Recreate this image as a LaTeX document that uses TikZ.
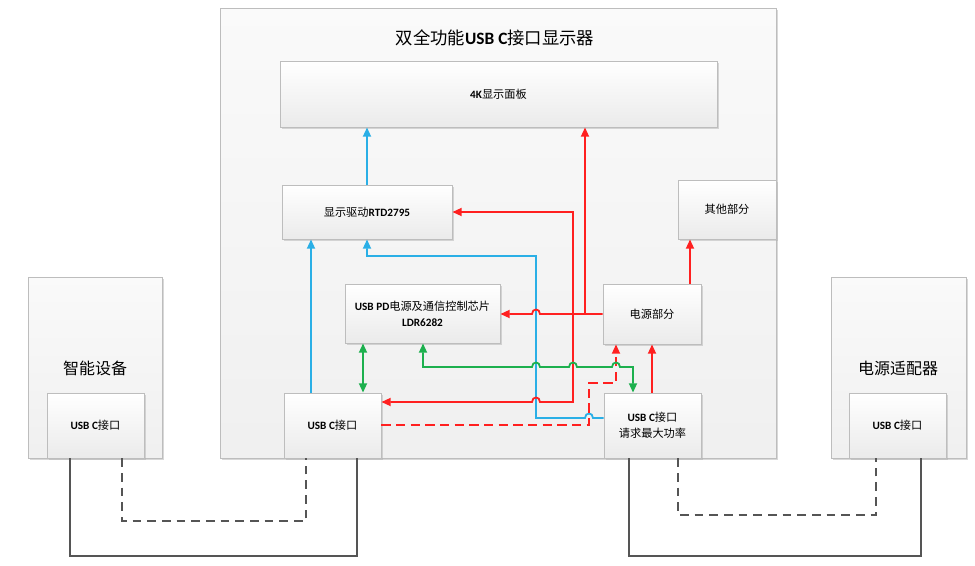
\documentclass[tikz,border=0pt]{standalone}
\usepackage{fontspec}
\setmainfont{Noto Sans CJK SC}
\newfontfamily\latf{Carlito}
\usetikzlibrary{arrows.meta,shadows}
\newcommand\lt[1]{{\latf\bfseries #1}}
\definecolor{cblue}{HTML}{2AAFE6}
\definecolor{cred}{HTML}{FF2020}
\definecolor{cgreen}{HTML}{1DB04E}
\definecolor{cgray}{HTML}{555555}
\definecolor{bordc}{HTML}{BDBDBD}
\tikzset{
  x=0.75pt, y=-0.75pt,
  shad/.style={drop shadow={shadow xshift=1.2pt, shadow yshift=-1.2pt, fill=black!30, opacity=0.5}},
  box/.style={draw=bordc, line width=0.6pt, top color=white, bottom color=black!8, shad,
    inner sep=0pt, align=center, font=\fontsize{8.4}{12}\selectfont},
  outer/.style={draw=bordc, line width=0.6pt, top color=black!2, bottom color=black!6, shad, inner sep=0pt},
  tip/.style={-{Triangle[length=7pt,width=6pt]}},
  bl/.style={draw=cblue, line width=1.35pt, tip},
  rd/.style={draw=cred, line width=1.35pt, tip},
  rdd/.style={draw=cred, line width=1.35pt, tip, dash pattern=on 7pt off 4pt},
  gr/.style={draw=cgreen, line width=1.35pt, {Triangle[length=7pt,width=6pt]}-{Triangle[length=7pt,width=6pt]}},
  cab/.style={draw=cgray, line width=1.1pt},
  cabd/.style={draw=cgray, line width=1.1pt, dash pattern=on 6.5pt off 4.5pt},
  big/.style={font=\fontsize{12}{14}\selectfont},
}
\newcommand\pbox[7][box]{\node[#1, minimum width={(#5-#3)*0.75pt}, minimum height={(#6-#4)*0.75pt}] (#2) at ({(#3+#5)/2},{(#4+#6)/2}) {#7};}
\begin{document}
\begin{tikzpicture}
\useasboundingbox[fill=white] (0,0) rectangle (975,565);
% outer boxes
\pbox[outer]{mon}{220}{8}{776}{458}{}
\pbox[outer]{dev}{28}{277}{162}{458}{}
\pbox[outer]{adp}{831}{277}{966}{458}{}
% inner boxes
\pbox{panel}{280}{61}{717}{127}{\lt{4K}显示面板}
\pbox{rtd}{282}{185}{452}{239}{显示驱动\lt{RTD2795}}
\pbox{other}{678}{180}{776}{239}{其他部分}
\pbox{pd}{345}{284}{500}{343}{\lt{USB PD}电源及通信控制芯片\\\lt{LDR6282}}
\pbox{pwr}{603}{284}{701}{344}{电源部分}
\pbox{usbm}{284}{393}{381}{458}{\lt{USB C}接口}
\pbox{usbr}{604}{393}{701}{458}{\lt{USB C}接口\\请求最大功率}
\pbox{usbl}{47}{393}{144}{458}{\lt{USB C}接口}
\pbox{usba}{849}{393}{946}{458}{\lt{USB C}接口}
% titles
\node[font=\fontsize{13}{15}\selectfont] (title) at (495,38) {双全功能\lt{USB C}接口显示器};
\node[big] (devt) at (95,368) {智能设备};
\node[big] (adpt) at (898,368) {电源适配器};
% junctions
\coordinate (j1) at (585,314);
\coordinate (j2) at (573,314);
% blue
\draw[bl] (usbm.north -| 311,0) -- (rtd.south -| 311,0);
\draw[bl] (rtd.north -| 367,0) -- (panel.south -| 367,0);
\draw[bl] (usbr.west |- 0,418) -- (593,418) .. controls (593,412) and (585,412) .. (585,418)
  -- (536,418) -- (536,256) -- (367,256) -- (rtd.south -| 367,0);
% red
\draw[rd] (pwr.west) -- (540,314) .. controls (540,308) and (532,308) .. (532,314) -- (pd.east |- pwr.west);
\draw[rd] (j1) -- (panel.south -| j1);
\draw[rd] (j2) -- (573,212) -- (rtd.east |- 0,212);
\draw[rd] (j2) -- (573,402) -- (540,402) .. controls (540,396) and (532,396) .. (532,402) -- (usbm.east |- 0,402);
\draw[rd] (usbr.north -| 652,0) -- (pwr.south -| 652,0);
\draw[rd] (pwr.north -| 690,0) -- (other.south -| 690,0);
\draw[rdd] (usbm.east |- 0,425) -- (589,425) -- (589,383) -- (616,383) -- (pwr.south -| 616,0);
% green
\draw[gr] (pd.south -| 363,0) -- (usbm.north -| 363,0);
\draw[gr] (pd.south -| 423,0) -- (423,367) -- (532,367) .. controls (532,361) and (540,361) .. (540,367)
  -- (569,367) .. controls (569,361) and (577,361) .. (577,367)
  -- (612,367) .. controls (612,361) and (620,361) .. (620,367)
  -- (633,367) -- (usbr.north -| 633,0);
% cables
\draw[cab] (usbl.south -| 70,0) -- (70,556) -- (357,556) -- (usbm.south -| 357,0);
\draw[cabd] (usbl.south -| 122,0) -- (122,521) -- (306,521) -- (usbm.south -| 306,0);
\draw[cab] (usbr.south -| 629,0) -- (629,556) -- (921,556) -- (usba.south -| 921,0);
\draw[cabd] (usbr.south -| 678,0) -- (678,515) -- (876,515) -- (usba.south -| 876,0);
\end{tikzpicture}
\end{document}
